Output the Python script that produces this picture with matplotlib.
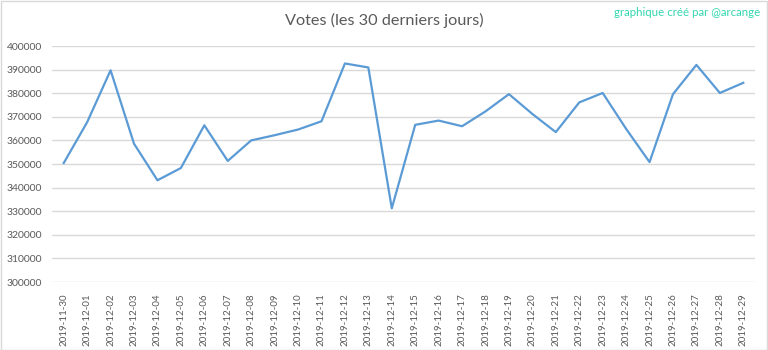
import matplotlib
matplotlib.use("Agg")
import matplotlib.pyplot as plt
from matplotlib.patches import Rectangle

dates = ["2019-11-30", "2019-12-01", "2019-12-02", "2019-12-03", "2019-12-04",
         "2019-12-05", "2019-12-06", "2019-12-07", "2019-12-08", "2019-12-09",
         "2019-12-10", "2019-12-11", "2019-12-12", "2019-12-13", "2019-12-14",
         "2019-12-15", "2019-12-16", "2019-12-17", "2019-12-18", "2019-12-19",
         "2019-12-20", "2019-12-21", "2019-12-22", "2019-12-23", "2019-12-24",
         "2019-12-25", "2019-12-26", "2019-12-27", "2019-12-28", "2019-12-29"]
votes = [350400, 367700, 389700, 358600, 343100,
         348300, 366400, 351300, 360000, 362200,
         364600, 368100, 392600, 390900, 331200,
         366600, 368400, 366000, 372300, 379600,
         371200, 363500, 376100, 380100, 364900,
         350800, 379600, 392000, 380100, 384400]
yticks = list(range(300000, 400001, 10000))

title = "Votes (les 30 derniers jours)"
credit = "graphique créé par @arcange"

W, H = 768, 350
fig = plt.figure(figsize=(W / 100, H / 100), dpi=100)
fig.patch.set_facecolor("white")

left, right, top, bottom = 52, 755, 46, 282
ax = fig.add_axes([left / W, 1 - bottom / H, (right - left) / W, (bottom - top) / H])

x = list(range(len(dates)))
ax.plot(x, votes, color="#5b9bd5", linewidth=1.6, solid_joinstyle="round")
ax.set_xlim(-0.5, len(dates) - 0.5)
ax.set_ylim(300000, 400000)
ax.set_yticks(yticks)
ax.set_yticklabels([str(v) for v in yticks])
ax.set_xticks(x)
ax.set_xticklabels(dates, rotation=90)
ax.grid(axis="y", color="#d9d9d9", linewidth=1.0)
ax.set_axisbelow(True)
for s in ax.spines.values():
    s.set_visible(False)
ax.tick_params(axis="both", length=0, colors="#595959")
ax.tick_params(axis="y", pad=7, labelsize=7.5)
ax.tick_params(axis="x", pad=8, labelsize=7)
for lbl in ax.get_xticklabels() + ax.get_yticklabels():
    lbl.set_fontfamily("Lato")

fig.text(384 / W, 1 - 20 / H, title, ha="center", va="center",
         fontsize=11.7, color="#595959", fontfamily="Lato")
fig.text(760 / W, 1 - 13 / H, credit, ha="right", va="center",
         fontsize=8.3, color="#33d6b0", fontfamily="Lato")

fig.patches.append(Rectangle((0.5 / W, 0.5 / H), (W - 1.5) / W, (H - 1.5) / H,
                             transform=fig.transFigure, fill=False,
                             edgecolor="#d9d9d9", linewidth=1.0))

fig.savefig("out.png", dpi=100)
